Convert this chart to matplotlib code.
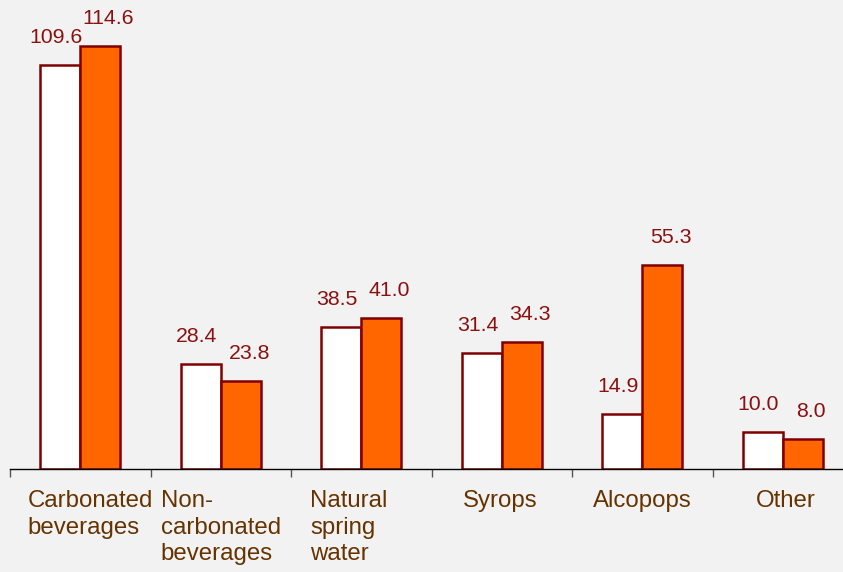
import numpy as np
import matplotlib.pyplot as plt

plt.rcParams['font.family'] = ['Liberation Sans', 'DejaVu Sans']

categories = ["Carbonated\nbeverages", "Non-\ncarbonated\nbeverages", "Natural\nspring\nwater",
              "Syrops", "Alcopops", "Other"]
series_a = [109.6, 28.4, 38.5, 31.4, 14.9, 10.0]
series_b = [114.6, 23.8, 41.0, 34.3, 55.3, 8.0]

bg = "#f2f2f2"
edge = "#800000"
val_color = "#8b1010"
cat_color = "#663300"

fig = plt.figure(figsize=(8.43, 5.72), dpi=100, facecolor=bg)
ax = fig.add_axes([10 / 843, 103 / 572, 833 / 843, 469 / 572])
ax.set_facecolor(bg)

x = np.arange(len(categories))
w = 0.285
bars_a = ax.bar(x - w / 2, series_a, w, color="white", edgecolor=edge, linewidth=1.8)
bars_b = ax.bar(x + w / 2, series_b, w, color="#ff6600", edgecolor=edge, linewidth=1.8)

for bars, dx in ((bars_a, -3), (bars_b, 6)):
    for b in bars:
        h = b.get_height()
        ax.annotate(f"{h:.1f}", (b.get_x() + b.get_width() / 2, h),
                    xytext=(dx, 13), textcoords="offset points",
                    ha="center", va="bottom", color=val_color, fontsize=15.3)

for s in ("left", "right", "top"):
    ax.spines[s].set_visible(False)
ax.spines["bottom"].set_color("black")
ax.spines["bottom"].set_linewidth(1.0)
ax.set_yticks([])

ax.set_xticks(np.arange(len(categories) + 1) - 0.5)
ax.set_xticklabels([])
ax.tick_params(axis="x", direction="out", length=6, color="#555555", width=1)

# set limits after ticks so the extra tick does not stretch the view
ax.set_xlim(-0.5, -0.5 + 833 / 140.5)
ax.set_ylim(0, 469 / 3.69)

# small horizontal nudges (points) for the wrapped category labels
label_dx = [7, 0, -9, -1, 0, 2]
for xi, lab, ddx in zip(x, categories, label_dx):
    ax.annotate(lab, (xi, 0), xycoords=("data", "axes fraction"),
                xytext=(ddx, -15), textcoords="offset points", ha="center", va="top",
                multialignment="left", color=cat_color, fontsize=17.3, linespacing=1.28)

fig.savefig("out.png", dpi=100, facecolor=bg)
